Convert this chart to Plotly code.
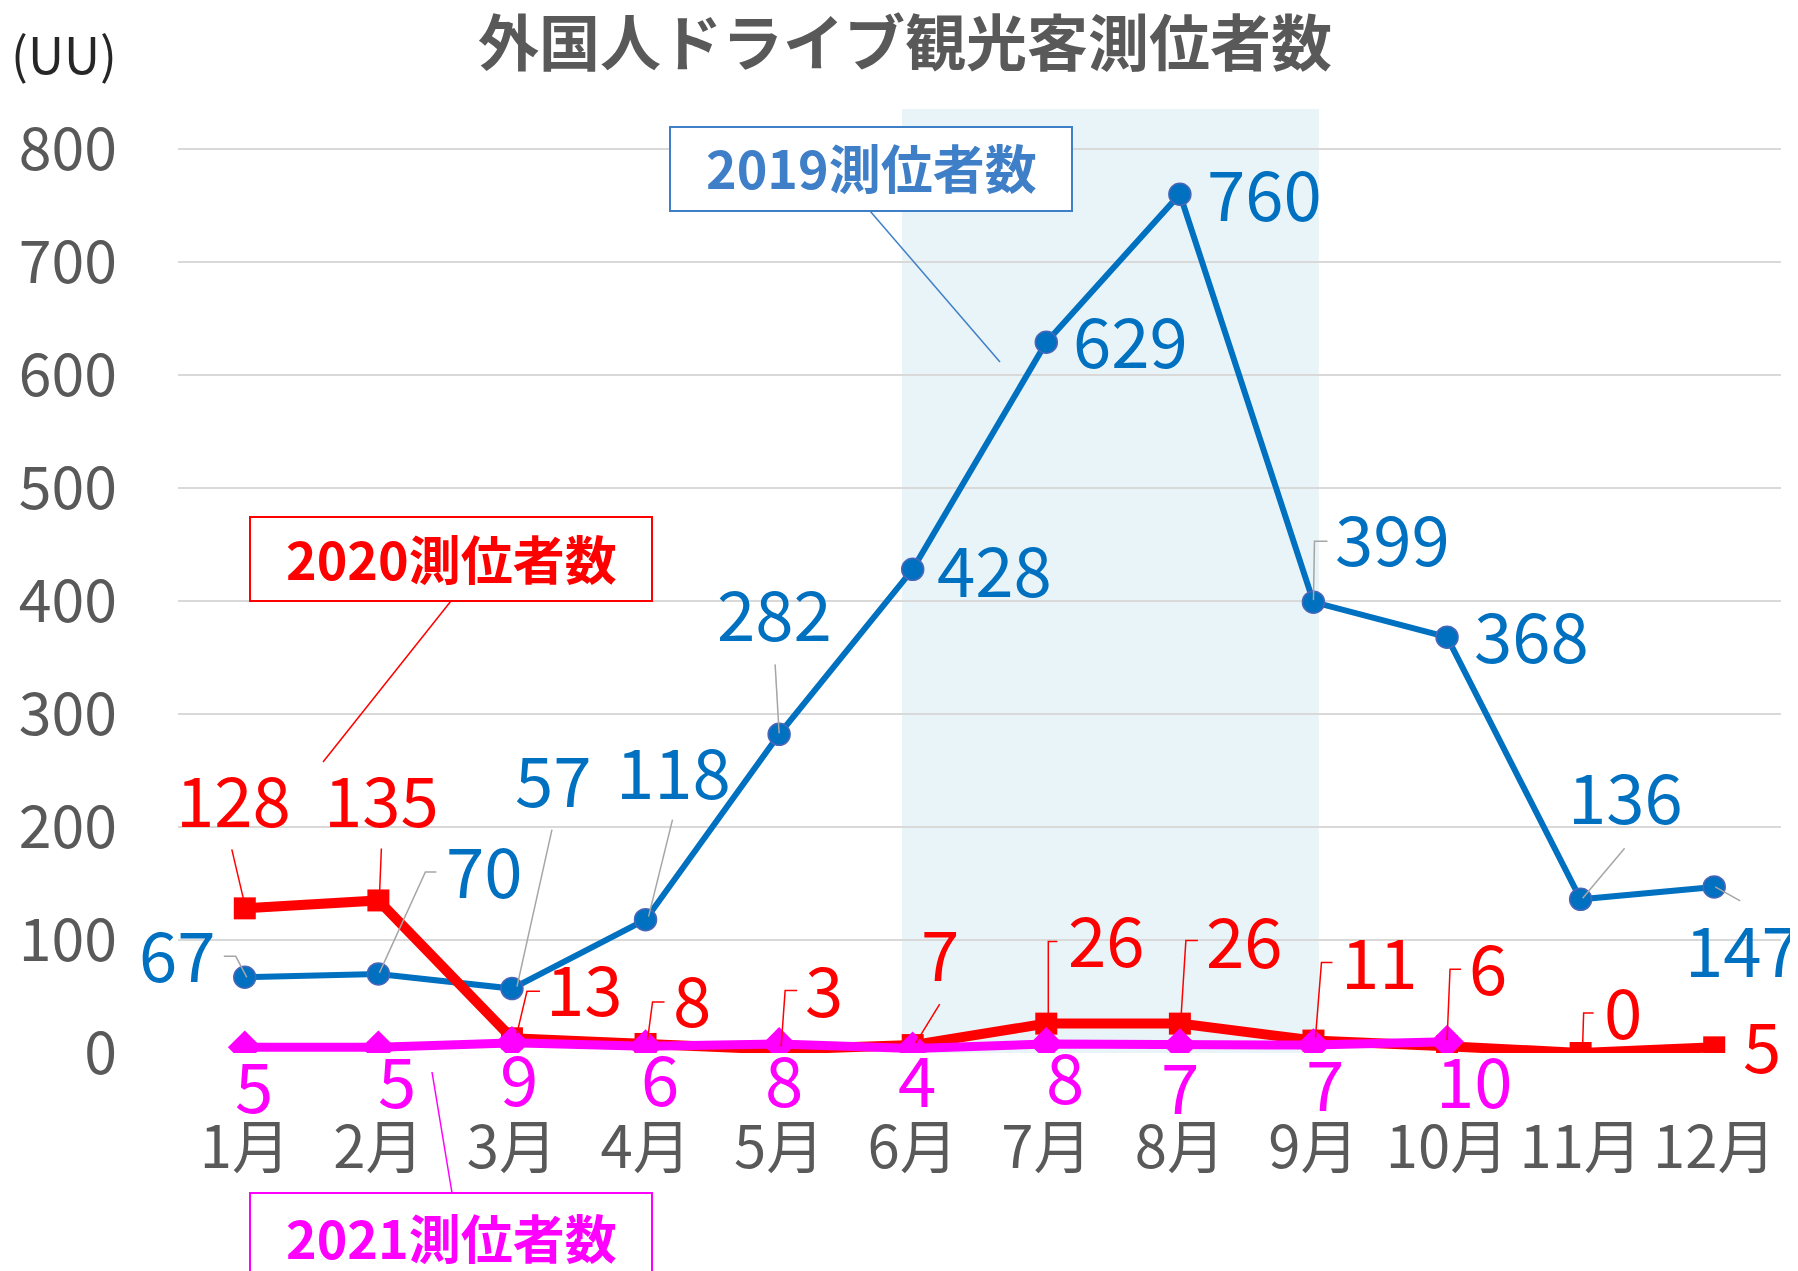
import plotly.graph_objects as go

# ---------------- data ----------------
months = ["1月", "2月", "3月", "4月", "5月", "6月", "7月", "8月", "9月", "10月", "11月", "12月"]
uu_2019 = [67, 70, 57, 118, 282, 428, 629, 760, 399, 368, 136, 147]
uu_2020 = [128, 135, 13, 8, 3, 7, 26, 26, 11, 6, 0, 5]
uu_2021 = [5, 5, 9, 6, 8, 4, 8, 7, 7, 10]
y_ticks = [0, 100, 200, 300, 400, 500, 600, 700, 800]

# ---------------- styling (label offsets in px: dx right, dy down) ----------------
FONT = "Noto Sans CJK JP"
C19, C20, C21 = "#0070C0", "#FF0000", "#FF00FF"
GRAY = "#595959"
LABEL_LIFT = 6  # CJK font sits low in its box

off19 = [(-67, -19), (106, -100), (42, -206), (28, -145), (-5, -117), (82, 4),
         (84, 2), (85, 3), (79, -60), (84, 2), (45, -99), (28, 66)]
off20 = [(-11, -105), (3, -97), (73, -46), (46, -41), (45, -57), (27, -88),
         (60, -81), (65, -80), (66, -76), (41, -75), (42, -38), (48, 2)]
off21 = [(9, 42), (19, 37), (7, 39), (14, 36), (5, 39), (4, 35), (19, 36), (0, 45), (12, 42), (27, 42)]

lead19 = {0: [(-21, -21), (-9, -21), (2, 0)], 1: [(58, -102), (47, -102), (1, -1)],
          2: [(40, -159), (5, -2)], 3: [(27, -100), (3, -3)], 4: [(-4, -70), (0, -1)],
          8: [(14, -61), (1, -61), (0, -2)], 10: [(44, -51), (2, -1)], 11: [(1, 0), (26, 14)]}
lead20 = {0: [(-13, -59), (-1, -8)], 1: [(3, -52), (1, -3)], 2: [(28, -47), (15, -47), (5, -5)],
          3: [(19, -42), (7, -42), (2, -4)], 4: [(18, -59), (6, -59), (2, -3)], 5: [(27, -41), (3, -2)],
          6: [(11, -82), (2, -82), (2, -4)], 7: [(18, -83), (6, -83), (1, -4)],
          8: [(19, -78), (8, -78), (2, -3)], 9: [(14, -77), (3, -77), (0, -6)],
          10: [(13, -40), (3, -40), (2, -8)]}

# page offset (browser body margin) and target plot area in screen pixels
OFF = 8
W, H = 1798, 1271
SX0, SX1, SY0, SY1 = 178, 1781, 109, 1053
L, T = SX0 - OFF, SY0 - OFF
R = W - (SX1 - OFF)
B = H - (SY1 - OFF)
PW, PH = SX1 - SX0, SY1 - SY0


def px(xs_):
    return (xs_ - SX0) / PW


def py(ys_):
    return (SY1 - ys_) / PH


xs = list(range(len(months)))

fig = go.Figure()
fig.add_trace(go.Scatter(x=xs, y=uu_2019, mode="lines+markers", name="2019",
                         line=dict(color=C19, width=6),
                         marker=dict(symbol="circle", size=22, color=C19, line=dict(color="#4A66B8", width=1.5))))
fig.add_trace(go.Scatter(x=xs, y=uu_2020, mode="lines+markers", name="2020",
                         line=dict(color=C20, width=10),
                         marker=dict(symbol="square", size=22, color=C20)))
fig.add_trace(go.Scatter(x=xs[:len(uu_2021)], y=uu_2021, mode="lines+markers", name="2021",
                         line=dict(color=C21, width=9),
                         marker=dict(symbol="diamond", size=26, color=C21)))

ann = []
shapes = []

# shaded summer band
shapes.append(dict(type="rect", xref="x", yref="paper", x0=4.92, x1=8.04, y0=0, y1=1,
                   fillcolor="#E8F4F7", line=dict(width=0), layer="below"))


def add_labels(vals, offs, color, leads):
    for i, v in enumerate(vals):
        dx, dy = offs[i]
        ann.append(dict(x=i, y=v, xref="x", yref="y", text=str(v), showarrow=False,
                        xshift=dx, yshift=-dy + LABEL_LIFT, xanchor="center", yanchor="middle",
                        font=dict(family=FONT, size=69, color=color)))
    for i, pts in leads.items():
        path = "M " + " L ".join(f"{a},{-b}" for a, b in pts)
        shapes.append(dict(type="path", xref="x", yref="y", xsizemode="pixel", ysizemode="pixel",
                           xanchor=i, yanchor=vals[i], path=path,
                           line=dict(color=color if color != C19 else "#A6A6A6", width=1.5),
                           layer="above"))


add_labels(uu_2019, off19, C19, lead19)
add_labels(uu_2020, off20, C20, lead20)
add_labels(uu_2021, off21, C21, {})

# callout boxes
boxes = [
    ("2019測位者数", "#3F7FC8", (670, 127, 1072, 211), ((870, 211), (1000, 362)), 166),
    ("2020測位者数", C20, (250, 517, 652, 601), ((451, 601), (323, 762)), 557),
    ("2021測位者数", C21, (250, 1193, 652, 1300), ((452, 1193), (432, 1072)), 1236),
]
for text, col, (x0, y0, x1, y1), ((lx0, ly0), (lx1, ly1)), cy in boxes:
    shapes.append(dict(type="rect", xref="paper", yref="paper", x0=px(x0), x1=px(x1), y0=py(y1), y1=py(y0),
                       fillcolor="white", line=dict(color=col, width=2), layer="above"))
    shapes.append(dict(type="line", xref="paper", yref="paper", x0=px(lx0), y0=py(ly0), x1=px(lx1), y1=py(ly1),
                       line=dict(color=col, width=1.5), layer="above"))
    ann.append(dict(x=px((x0 + x1) / 2), y=py(cy), xref="paper", yref="paper", text=f"<b>{text}</b>",
                    showarrow=False, xanchor="center", yanchor="middle",
                    font=dict(family=FONT, size=52, color=col)))

# title and unit
ann.append(dict(x=px(905), y=py(40), xref="paper", yref="paper", text="<b>外国人ドライブ観光客測位者数</b>",
                showarrow=False, xanchor="center", yanchor="middle",
                font=dict(family=FONT, size=61, color=GRAY)))
ann.append(dict(x=px(64), y=py(52), xref="paper", yref="paper", text="(UU)",
                showarrow=False, xanchor="center", yanchor="middle",
                font=dict(family=FONT, size=50, color="#262626")))

fig.update_layout(
    width=W, height=H,
    margin=dict(l=L, r=R, t=T, b=B, pad=0, autoexpand=False),
    paper_bgcolor="white", plot_bgcolor="white",
    showlegend=False,
    annotations=ann, shapes=shapes,
    xaxis=dict(range=[-0.5, 11.5], tickmode="array", tickvals=xs, ticktext=months,
               showgrid=False, zeroline=False, showline=False, ticks="", automargin=False,
               tickangle=0,
               tickfont=dict(family=FONT, size=58, color=GRAY), ticklabelstandoff=56),
    yaxis=dict(range=[0, 835.4], tickmode="array", tickvals=y_ticks, automargin=False,
               showgrid=True, gridcolor="#D9D9D9", gridwidth=2, zeroline=False, showline=False,
               ticks="", tickfont=dict(family=FONT, size=59, color=GRAY), ticklabelstandoff=60),
)

fig.write_html("out.html")
